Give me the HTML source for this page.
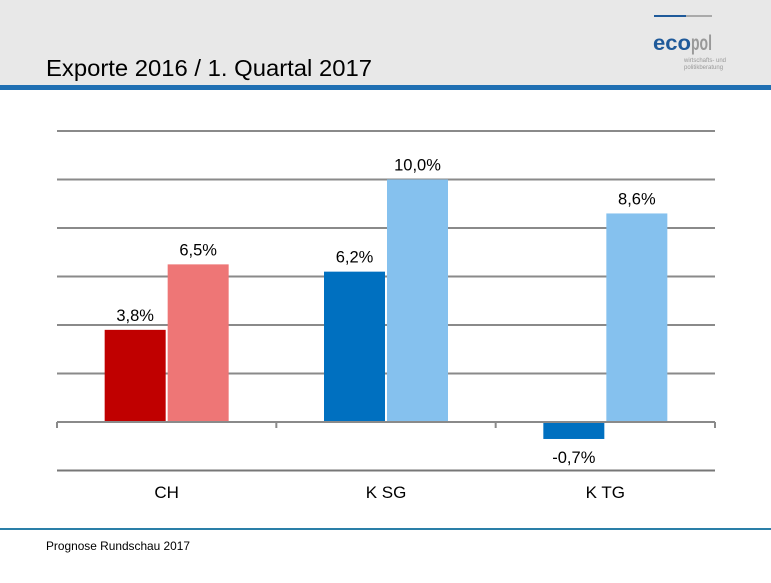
<!DOCTYPE html>
<html><head><meta charset="utf-8"><style>
body{margin:0;width:771px;height:578px;background:#fff;overflow:hidden;font-family:"Liberation Sans",sans-serif}
</style></head><body>
<svg width="771" height="578" xmlns="http://www.w3.org/2000/svg">
<rect x="0" y="0" width="771" height="86" fill="#e8e8e8"/>
<rect x="0" y="85" width="771" height="5" fill="#1f6fb2"/>
<text x="46" y="76" font-size="23" fill="#000" textLength="326" lengthAdjust="spacingAndGlyphs">Exporte 2016 / 1. Quartal 2017</text>
<g>
<rect x="654" y="15" width="32" height="2" fill="#1f5a9a"/>
<rect x="686" y="15" width="26" height="2" fill="#aaa"/>
<text x="653" y="50" font-size="21" font-weight="bold" fill="#1f5a9a" textLength="38" lengthAdjust="spacingAndGlyphs">eco</text>
<text x="691" y="50" font-size="21" font-weight="bold" fill="#999" textLength="21" lengthAdjust="spacingAndGlyphs">pol</text>
<text x="684" y="62" font-size="6" fill="#999">wirtschafts- und</text>
<text x="684" y="69" font-size="6" fill="#999">politikberatung</text>
</g>
<g id="grid"></g>
<g id="bars"></g>
<g id="axis"></g>
<rect x="0" y="528" width="771" height="2" fill="#2a7fa8"/>
<text x="46" y="550" font-size="12" fill="#000" textLength="144" lengthAdjust="spacingAndGlyphs">Prognose Rundschau 2017</text>
</svg>
<script>
const categories=["CH","K SG","K TG"];
const series2016=[3.8,6.2,-0.7];
const seriesQ1=[6.5,10.0,8.6];
const labels2016=["3,8%","6,2%","-0,7%"];
const labelsQ1=["6,5%","10,0%","8,6%"];
const gridTicks=[-2,0,2,4,6,8,10,12];
const colors2016=["#c00000","#0070c0","#0070c0"];
const colorsQ1=["#ee7676","#85c1ee","#85c1ee"];
const NS="http://www.w3.org/2000/svg";
const x0=57,x1=715,zeroY=422,pxPer=24.25;
const y=v=>zeroY-v*pxPer;
const catW=(x1-x0)/categories.length;
function mk(tag,attrs,parent){const e=document.createElementNS(NS,tag);for(const k in attrs)e.setAttribute(k,attrs[k]);parent.appendChild(e);return e;}
const grid=document.getElementById('grid'),bars=document.getElementById('bars'),axis=document.getElementById('axis');
gridTicks.forEach(t=>{if(t===0)return;
 const l=mk('line',{x1:x0,x2:x1,y1:y(t),y2:y(t),stroke:t===-2?'#777':'#8a8a8a','stroke-width':2},grid);
 
 
});
const zl=mk('line',{x1:x0,x2:x1,y1:zeroY,y2:zeroY,stroke:'#8a8a8a','stroke-width':2},axis);


for(let i=0;i<=categories.length;i++){const tx=x0+i*catW;
 const tk=mk('line',{x1:tx,x2:tx,y1:zeroY,y2:zeroY+6,stroke:'#8a8a8a','stroke-width':2},axis);
 
 
}
categories.forEach((c,i)=>{
 const cx=x0+catW*i+catW/2;
 const bw=61;
 [[series2016,colors2016,labels2016,cx-bw-1,'bar-2016-'],[seriesQ1,colorsQ1,labelsQ1,cx+1,'bar-q1-2017-']].forEach(([s,col,lab,bx,nm])=>{
  const v=s[i];
  const r=mk('rect',{x:bx,y:Math.min(y(v),zeroY),width:bw,height:Math.abs(y(v)-zeroY),fill:col[i]},bars);
  
  
  const ty=v>=0?y(v)-9:y(v)+24;
  const t=mk('text',{x:bx+bw/2,y:ty,'font-size':16.5,'text-anchor':'middle',fill:'#000'},bars);
  t.textContent=lab[i];
  
  
 });
 const cl=mk('text',{x:cx,y:498,'font-size':17,'text-anchor':'middle',fill:'#000'},axis);
 cl.textContent=c;
 
 
});
</script>
</body></html>
